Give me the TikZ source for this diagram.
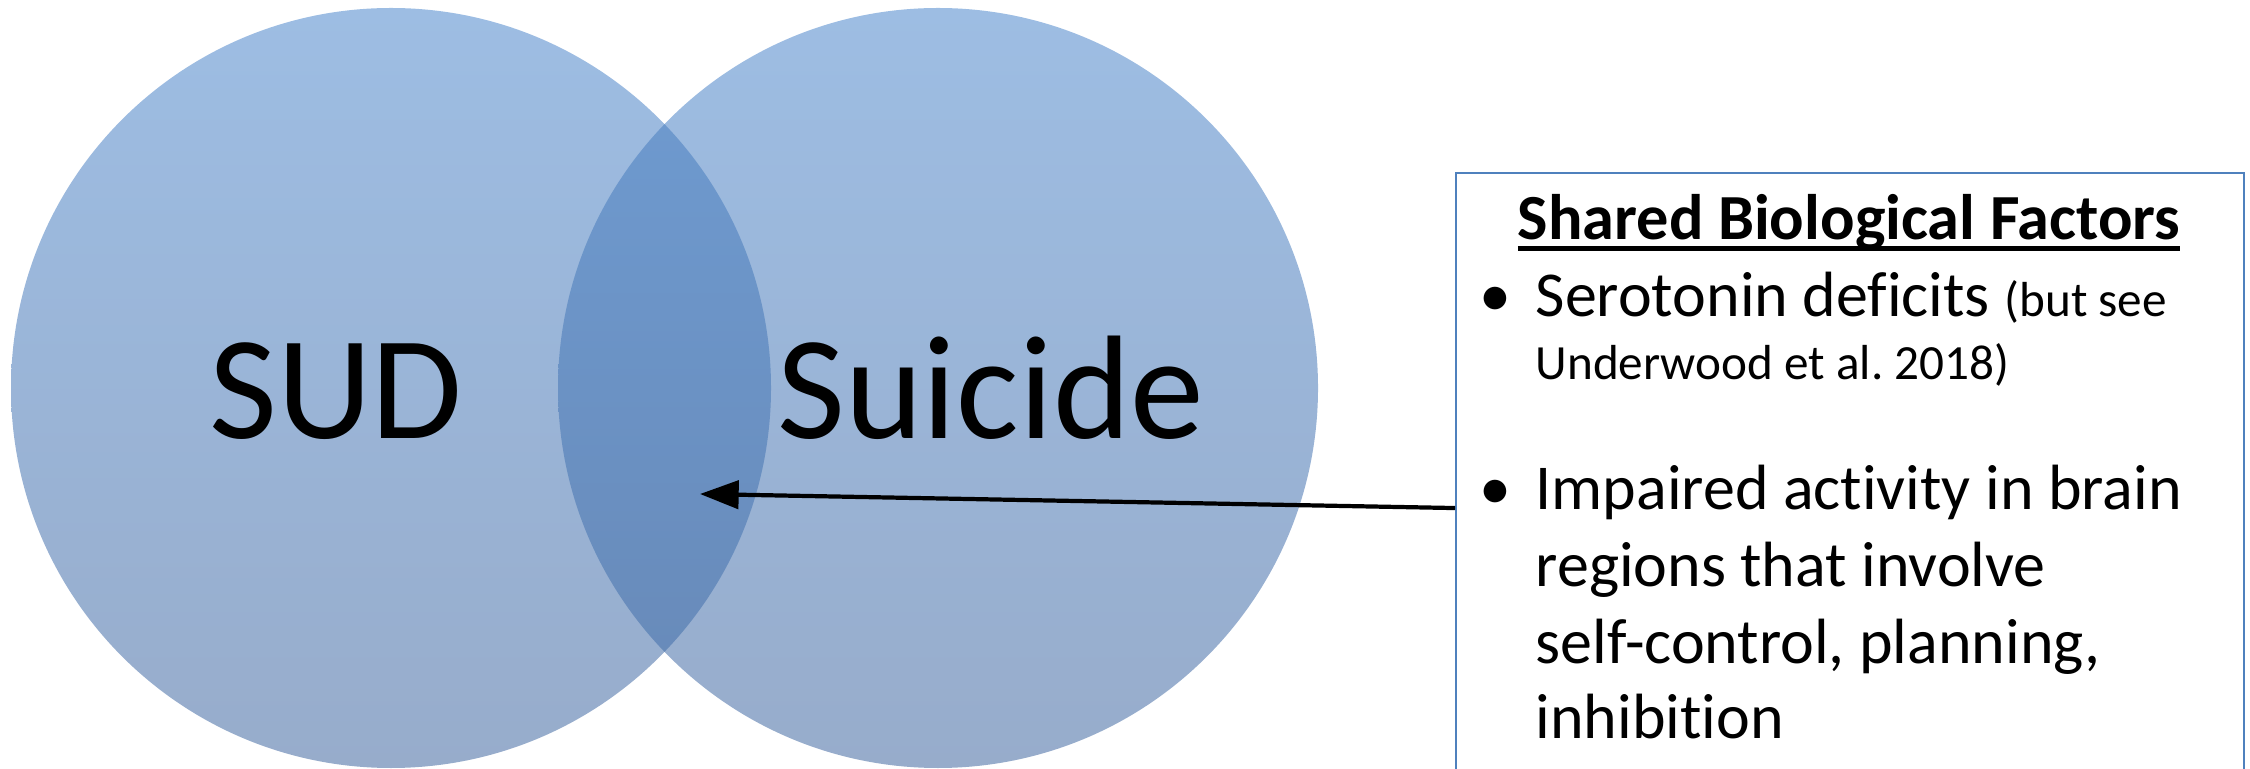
\documentclass[tikz,border=0pt]{standalone}
\usepackage{fontspec}
\setmainfont{Carlito}[Ligatures={NoCommon}]
\usetikzlibrary{arrows.meta}
\definecolor{circtop}{RGB}{157,189,227}
\definecolor{circbot}{RGB}{151,172,203}
\definecolor{laptop}{RGB}{111,156,210}
\definecolor{lapbot}{RGB}{103,136,182}
\definecolor{boxblue}{RGB}{79,129,189}
\frenchspacing
\newcommand{\thickul}[1]{\setbox0\hbox{#1}\rlap{\rule[-3pt]{\wd0}{1.4pt}}\box0}
\tikzset{
  venn/.style={top color=circtop, bottom color=circbot},
  overlap/.style={top color=laptop, bottom color=lapbot},
  biglabel/.style={font=\fontsize{42}{48}\selectfont, anchor=base, inner sep=0pt},
  itemtext/.style={font=\fontsize{18.2}{21.6}\selectfont, anchor=base west, inner sep=0pt},
  smalltext/.style={font=\fontsize{14}{17}\selectfont, anchor=base west, inner sep=0pt},
  bulletmark/.style={font=\fontsize{18.2}{21.6}\selectfont, anchor=base, inner sep=0pt}
}

\begin{document}
\begin{tikzpicture}
  \useasboundingbox (0,0) rectangle (22.5,7.68);
  \clip (0,0) rectangle (22.5,7.68);
  % the two circles and their overlap
  \shade[venn] (3.91,3.80) circle (3.80);
  \shade[venn] (9.38,3.80) circle (3.80);
  \begin{scope}
    \clip (3.91,3.80) circle (3.80);
    \shade[overlap] (9.38,3.80) circle (3.80);
  \end{scope}
  \node[biglabel] (sud) at (3.36,3.29) {SUD};
  \node[biglabel] (suicide) at (9.91,3.29) {Suicide};
  % text box
  \node[draw=boxblue, line width=0.6pt, minimum width=7.88cm, minimum height=6.70cm, anchor=north west] (factors) at (14.55,5.96) {};
  \node[anchor=base, font=\bfseries\fontsize{18.3}{21.6}\selectfont, inner sep=0pt] (title) at (18.49,5.28) {\thickul{Shared Biological Factors}};
  \node[bulletmark] (b1) at (14.95,4.51) {\textbullet};
  \node[itemtext] (sero) at (15.35,4.51) {Serotonin deficits {\fontsize{14}{17}\selectfont (but see}};
  \node[smalltext] (under) at (15.35,3.88) {Underwood et al. 2018)};
  \node[bulletmark] (b2) at (14.95,2.58) {\textbullet};
  \node[itemtext] (imp1) at (15.35,2.58) {Impaired activity in brain};
  \node[itemtext] (imp2) at (15.35,1.81) {regions that involve};
  \node[itemtext] (imp3) at (15.35,1.05) {self-control, planning,};
  \node[itemtext] (imp4) at (15.35,0.30) {inhibition};
  % arrow into the overlap
  \coordinate (tip) at (7.00,2.74);
  \draw[-{Triangle[length=11pt,width=8pt]}, line width=1.2pt] (factors.west) -- (tip);
\end{tikzpicture}
\end{document}
